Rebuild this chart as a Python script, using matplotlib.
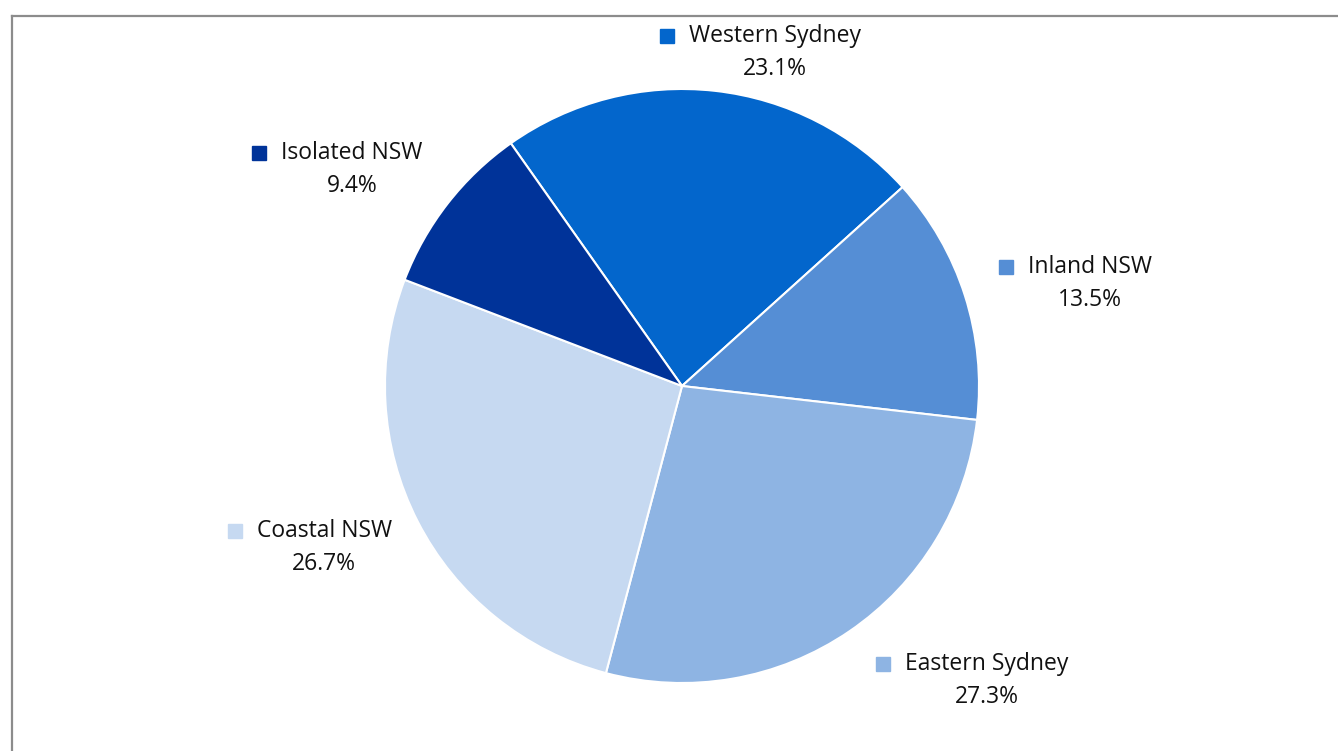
import matplotlib.pyplot as plt
from matplotlib.lines import Line2D

# regional share, clockwise from the top
regions = ['Western Sydney', 'Inland NSW', 'Eastern Sydney', 'Coastal NSW', 'Isolated NSW']
shares = [23.1, 13.5, 27.3, 26.7, 9.4]
colors = ['#0366CC', '#558ED5', '#8EB4E3', '#C6D9F1', '#003399']

# label centres, in pie-radius units
label_xy = [(0.313, 1.178), (1.374, 0.401), (1.027, -0.936), (-1.205, -0.488), (-1.111, 0.785)]

plt.rcParams['font.family'] = ['Open Sans', 'DejaVu Sans']

W, H = 1338, 751
R = 297.0
cx, cy = 682, 386
fig = plt.figure(figsize=(W / 100, H / 100), dpi=100)
ax = fig.add_axes([0, 0, 1, 1])
ax.axis('off')

ax.pie(shares, colors=colors, startangle=125.2, counterclock=False, radius=1.0,
       wedgeprops=dict(edgecolor='white', linewidth=1.5))
ax.set_xlim(-cx / R, (W - cx) / R)
ax.set_ylim((cy - H) / R, cy / R)
ax.set_aspect('auto')

fig.canvas.draw()
renderer = fig.canvas.get_renderer()
gap = 0.111
for name, val, col, (lx, ly) in zip(regions, shares, colors, label_xy):
    t = ax.text(lx, ly, name, ha='center', va='center', fontsize=16.5, color='#111111')
    ax.text(lx, ly - gap, f'{val:.1f}%', ha='center', va='center', fontsize=16.5, color='#111111')
    bb = t.get_window_extent(renderer=renderer)
    x0 = ax.transData.inverted().transform((bb.x0, bb.y0))[0]
    ax.plot(x0 - 22 / R, ly, marker='s', markersize=9.5, color=col, linestyle='none')

# chart frame
fig.add_artist(Line2D([11.5 / W, 11.5 / W], [0, 1 - 15.5 / H], color='#8c8c8c', linewidth=1.6))
fig.add_artist(Line2D([11.5 / W, 1], [1 - 15.5 / H, 1 - 15.5 / H], color='#8c8c8c', linewidth=1.6))

fig.savefig('out.png', dpi=100)
